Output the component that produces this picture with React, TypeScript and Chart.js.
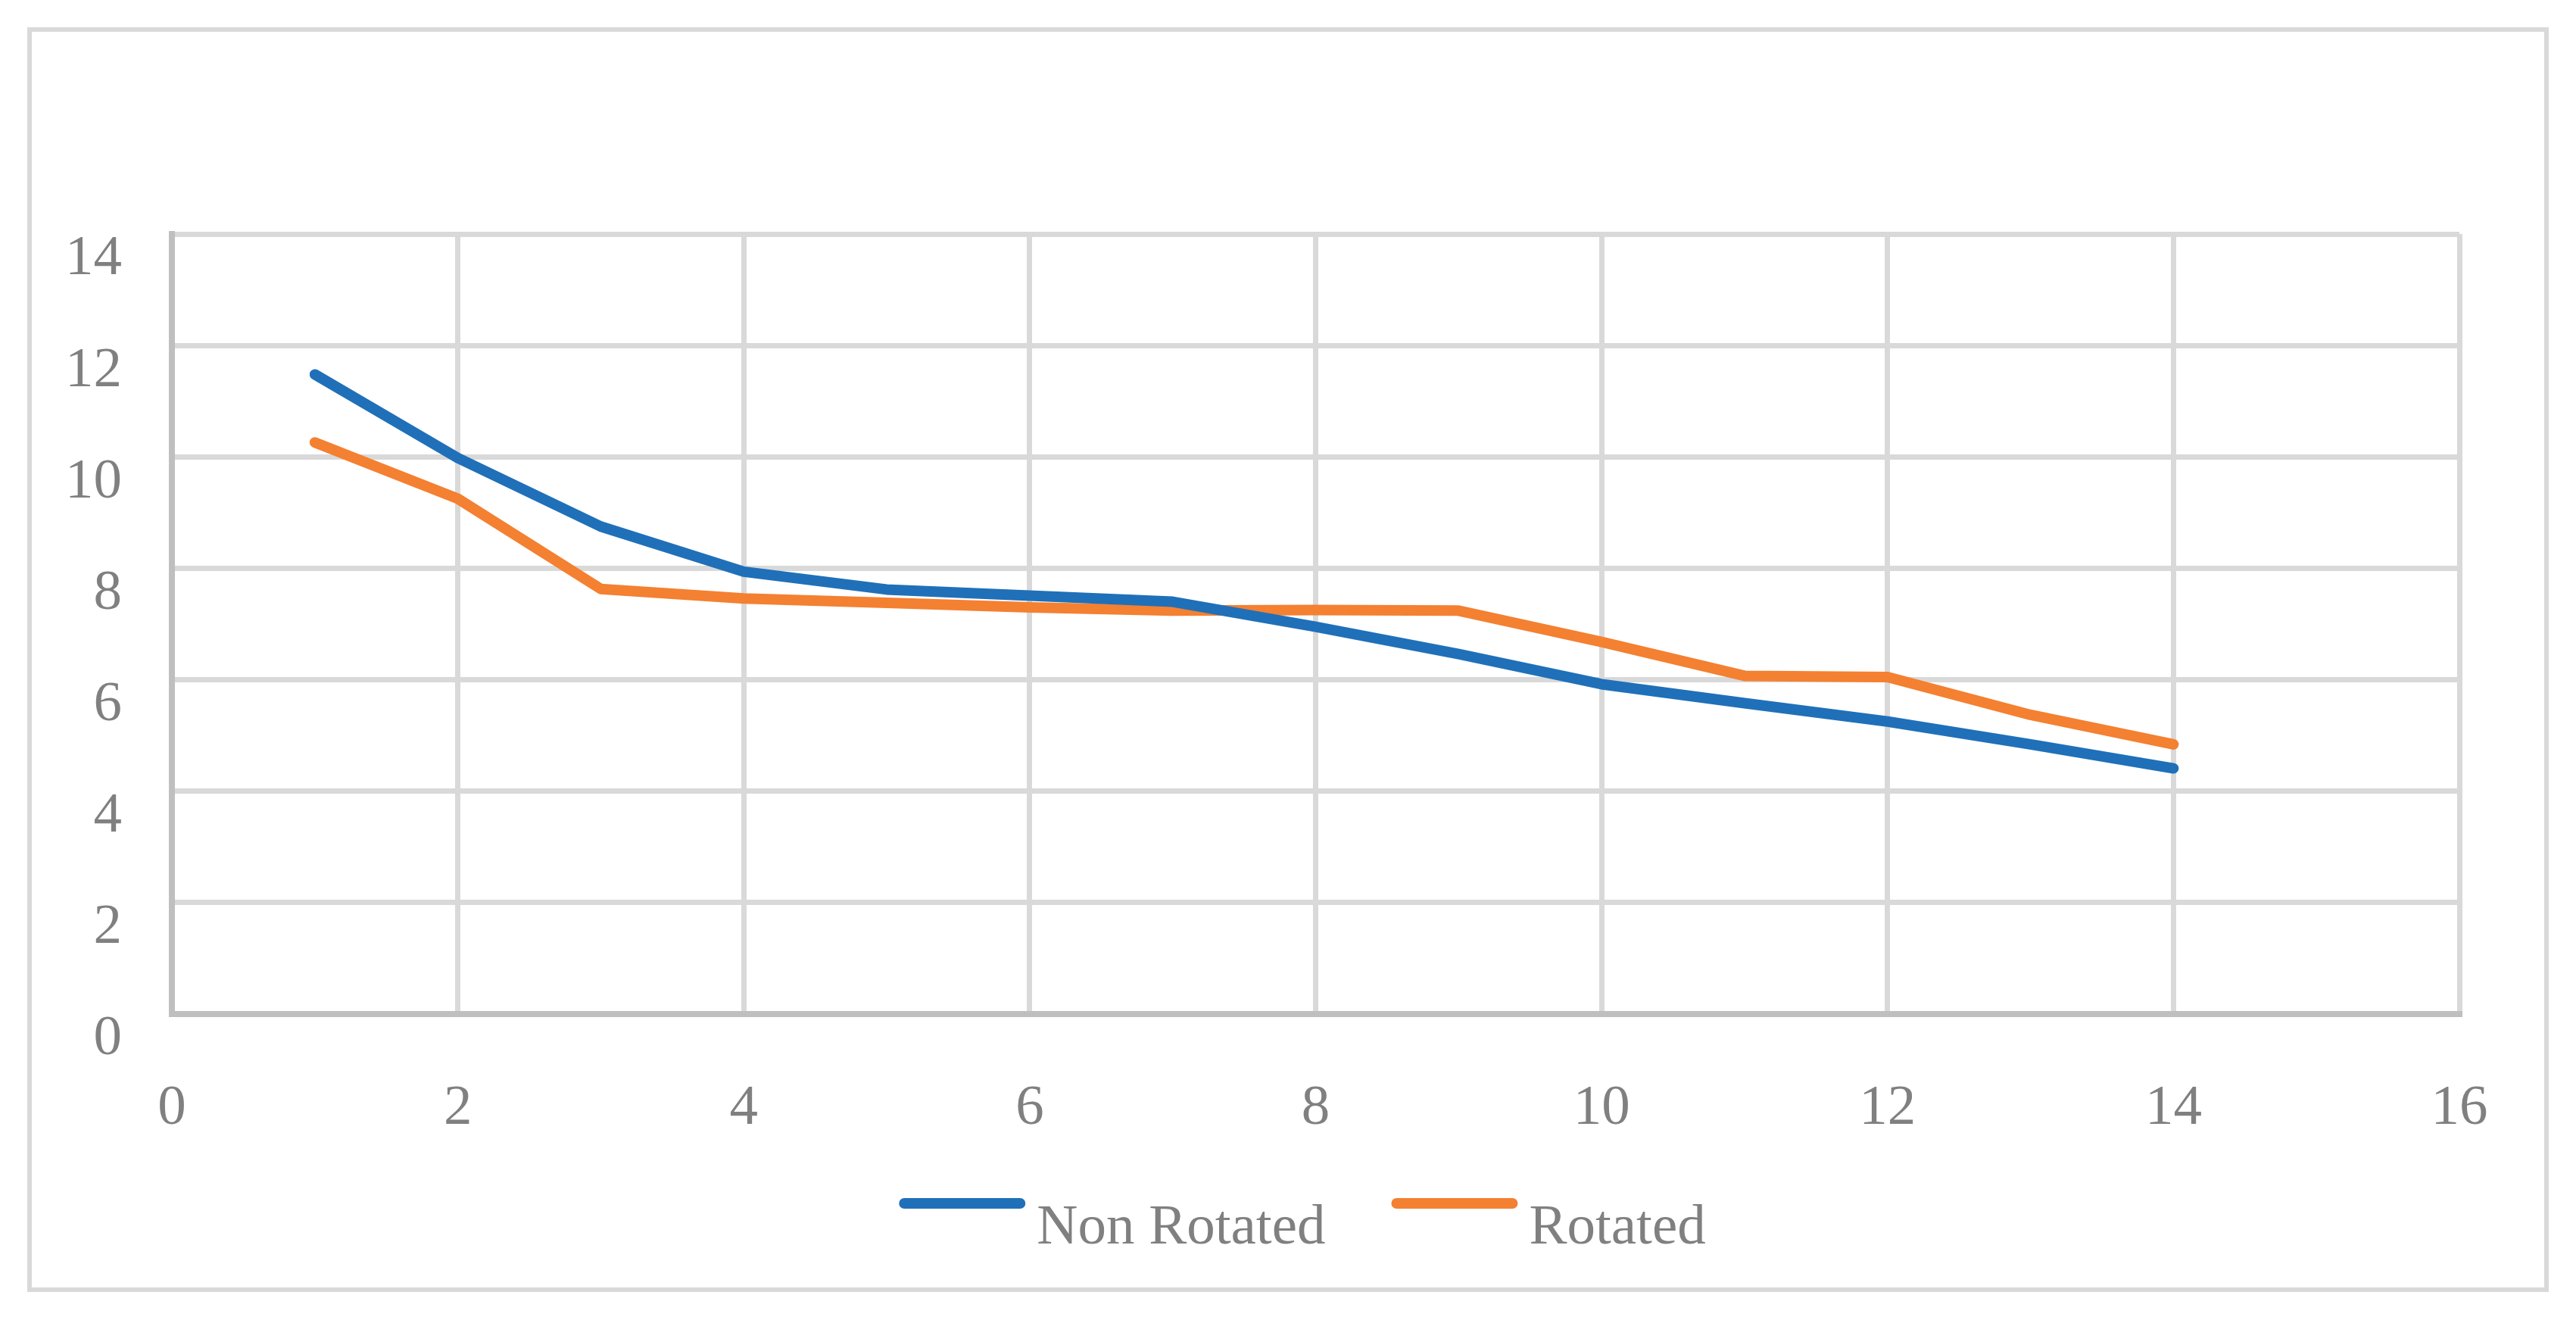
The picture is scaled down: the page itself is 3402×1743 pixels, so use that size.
import React, { useEffect, useRef } from 'react';
import { Chart, registerables } from 'chart.js';
import type { Plugin } from 'chart.js';

Chart.register(...registerables);

// values (x = 1..14)
const steps = [1, 2, 3, 4, 5, 6, 7, 8, 9, 10, 11, 12, 13, 14];
const nonRotated = [11.48, 9.98, 8.75, 7.94, 7.62, 7.51, 7.4, 6.95, 6.46, 5.92, 5.58, 5.25, 4.84, 4.41];
const rotated = [10.26, 9.25, 7.63, 7.46, 7.38, 7.3, 7.24, 7.25, 7.24, 6.68, 6.07, 6.05, 5.37, 4.84];
const xTicks = [0, 2, 4, 6, 8, 10, 12, 14, 16];
const yTicks = [0, 2, 4, 6, 8, 10, 12, 14];
const seriesLabels = ['Non Rotated', 'Rotated'];
const seriesColors = ['#1f70b8', '#f48031'];

const FONT = '"Liberation Serif", "Times New Roman", serif';
const TEXT_COLOR = '#808080';

// outer frame round the whole chart
const framePlugin: Plugin<'line'> = {
  id: 'framePlugin',
  beforeDraw: (chart) => {
    const { ctx } = chart;
    ctx.save();
    ctx.strokeStyle = '#d9d9d9';
    ctx.lineWidth = 6;
    ctx.strokeRect(39, 39, 3324, 1664);
    ctx.restore();
  },
};

// legend drawn by hand: text sits a little below the line sample, as in the original
const legendPlugin: Plugin<'line'> = {
  id: 'lineLegend',
  afterDraw: (chart) => {
    const { ctx } = chart;
    const sample = 167;
    const gap = 15;
    const itemGap = 87;
    const lineY = 1589;
    const textY = 1622;
    const centerX = 1720;

    ctx.save();
    ctx.font = `75px ${FONT}`;
    const items = chart.data.datasets.map((ds) => ({
      label: String(ds.label),
      color: ds.borderColor as string,
      w: ctx.measureText(String(ds.label)).width,
    }));
    const total = items.reduce((s, it) => s + sample + gap + it.w, 0) + itemGap * (items.length - 1);
    let x = centerX - total / 2;
    items.forEach((it) => {
      ctx.strokeStyle = it.color;
      ctx.lineWidth = 14;
      ctx.lineCap = 'round';
      ctx.beginPath();
      ctx.moveTo(x + 7, lineY);
      ctx.lineTo(x + sample - 7, lineY);
      ctx.stroke();
      ctx.fillStyle = TEXT_COLOR;
      ctx.textAlign = 'left';
      ctx.textBaseline = 'middle';
      ctx.fillText(it.label, x + sample + gap, textY);
      x += sample + gap + it.w + itemGap;
    });
    ctx.restore();
  },
};

const App: React.FC = () => {
  const canvasRef = useRef<HTMLCanvasElement>(null);
  const chartRef = useRef<Chart | null>(null);

  useEffect(() => {
    document.body.style.margin = '0';
    if (!canvasRef.current) return;
    const ctx = canvasRef.current.getContext('2d');
    if (!ctx) return;

    if (chartRef.current) chartRef.current.destroy();

    const series = [nonRotated, rotated];

    chartRef.current = new Chart(ctx, {
      type: 'line',
      data: {
        datasets: series.map((vals, i) => ({
          label: seriesLabels[i],
          data: steps.map((s, j) => ({ x: s, y: vals[j] })),
          borderColor: seriesColors[i],
          backgroundColor: seriesColors[i],
          borderWidth: 14,
          borderCapStyle: 'round' as const,
          borderJoinStyle: 'round' as const,
          pointRadius: 0,
          tension: 0,
          fill: false,
        })),
      },
      options: {
        animation: false,
        responsive: true,
        maintainAspectRatio: false,
        layout: { padding: { top: 309, right: 154, bottom: 0, left: 0 } },
        scales: {
          x: {
            type: 'linear',
            min: xTicks[0],
            max: xTicks[xTicks.length - 1],
            afterBuildTicks: (scale) => {
              scale.ticks = xTicks.map((v) => ({ value: v }));
            },
            afterFit: (scale) => {
              scale.height = 404;
            },
            grid: { color: '#d9d9d9', lineWidth: 7, drawTicks: false },
            border: { color: '#bfbfbf', width: 8 },
            ticks: {
              padding: 80,
              color: TEXT_COLOR,
              font: { family: FONT, size: 75 },
              maxRotation: 0,
            },
          },
          y: {
            type: 'linear',
            min: yTicks[0],
            max: yTicks[yTicks.length - 1],
            afterBuildTicks: (scale) => {
              scale.ticks = yTicks.map((v) => ({ value: v }));
            },
            afterFit: (scale) => {
              scale.width = 227;
            },
            grid: { color: '#d9d9d9', lineWidth: 7, drawTicks: false },
            border: { color: '#bfbfbf', width: 8 },
            ticks: {
              padding: 66,
              color: TEXT_COLOR,
              font: { family: FONT, size: 75, lineHeight: 0.9 },
              // empty first line pushes the number a bit below its gridline
              callback: (v) => ['', String(v)],
            },
          },
        },
        plugins: {
          legend: { display: false },
          tooltip: { enabled: false },
        },
      },
      plugins: [framePlugin, legendPlugin],
    });

    return () => {
      if (chartRef.current) {
        chartRef.current.destroy();
        chartRef.current = null;
      }
    };
  }, []);

  return (
    <div style={{ position: 'relative', width: '3402px', height: '1743px', background: '#fff' }}>
      <canvas ref={canvasRef} />
    </div>
  );
};

export default App;
